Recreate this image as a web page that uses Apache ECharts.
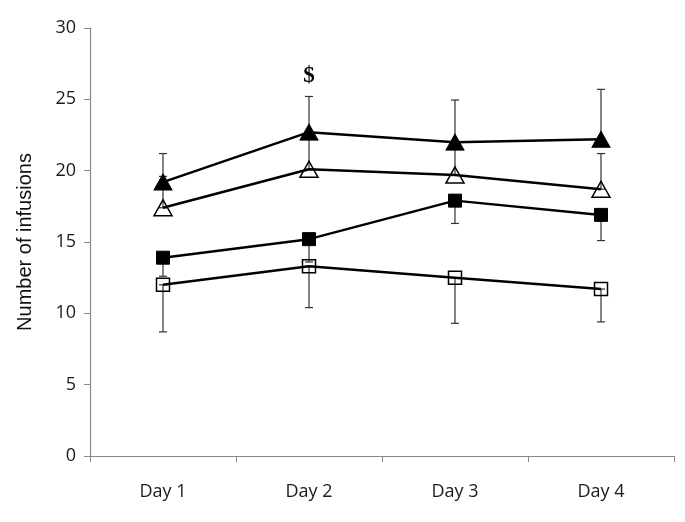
<!DOCTYPE html>
<html>
<head>
<meta charset="utf-8">
<script src="https://cdn.jsdelivr.net/npm/echarts@6/dist/echarts.min.js"></script>
<style>html,body{margin:0;padding:0;background:#fff}#c{width:685px;height:522px}</style>
</head>
<body>
<div id="c"></div>
<script>
var categories = ['Day 1', 'Day 2', 'Day 3', 'Day 4'];
var yTicks = [0, 5, 10, 15, 20, 25, 30];
var filledTri = [19.2, 22.7, 22.0, 22.2];
var filledTriHigh = [21.2, 25.2, 24.95, 25.7];
var openTri = [17.4, 20.1, 19.7, 18.7];
var openTriHigh = [19.6, 22.4, 21.8, 21.2];
var filledSq = [13.9, 15.2, 17.9, 16.9];
var filledSqLow = [12.6, 13.6, 16.3, 15.1];
var openSq = [12.0, 13.3, 12.5, 11.7];
var openSqLow = [8.7, 10.4, 9.3, 9.4];
var annotation = { text: '$', category: 'Day 2', y: 26.6 };

function errData(a, b) {
  return a.map(function (v, i) { return [i, Math.min(v, b[i]), Math.max(v, b[i])]; });
}
function errSeries(a, b) {
  return {
    type: 'custom',
    z: 1,
    silent: true,
    data: errData(a, b),
    renderItem: function (params, api) {
      var x = api.value(0);
      var p1 = api.coord([x, api.value(1)]);
      var p2 = api.coord([x, api.value(2)]);
      var hw = 4;
      var st = { stroke: '#333', lineWidth: 1.2 };
      return {
        type: 'group',
        children: [
          { type: 'line', shape: { x1: p1[0], y1: p1[1], x2: p2[0], y2: p2[1] }, style: st },
          { type: 'line', shape: { x1: p1[0] - hw, y1: p1[1], x2: p1[0] + hw, y2: p1[1] }, style: st },
          { type: 'line', shape: { x1: p2[0] - hw, y1: p2[1], x2: p2[0] + hw, y2: p2[1] }, style: st }
        ]
      };
    }
  };
}
function lineSeries(data, symbol, size, filled, extra) {
  var s = {
    type: 'line',
    z: 3,
    data: data,
    symbol: symbol,
    symbolSize: size,
    showAllSymbol: true,
    lineStyle: { color: '#000', width: 2.5 },
    itemStyle: filled ? { color: '#000', borderColor: '#000', borderWidth: 1 }
                      : { color: 'rgba(255,255,255,0)', borderColor: '#000', borderWidth: 1.5 },
    emphasis: { disabled: true },
    animation: false
  };
  if (extra) for (var k in extra) s[k] = extra[k];
  return s;
}

var chart = echarts.init(document.getElementById('c'));
chart.setOption({
  animation: false,
  grid: { left: 90, right: 11, top: 28, bottom: 66 },
  xAxis: {
    type: 'category',
    data: categories,
    boundaryGap: true,
    axisLine: { lineStyle: { color: '#888', width: 1.2 } },
    axisTick: { show: true, length: 6, lineStyle: { color: '#888' } },
    axisLabel: { color: '#1a1a1a', fontSize: 18, fontFamily: 'Open Sans', margin: 27 }
  },
  yAxis: {
    type: 'value',
    min: yTicks[0],
    max: yTicks[yTicks.length - 1],
    interval: 5,
    name: 'Number of infusions',
    nameLocation: 'middle',
    nameGap: 55,
    nameTextStyle: { color: '#111', fontSize: 20, fontFamily: 'Liberation Sans' },
    axisLine: { show: true, lineStyle: { color: '#888', width: 1.2 } },
    axisTick: { show: true, length: 6, lineStyle: { color: '#888' } },
    splitLine: { show: false },
    axisLabel: { color: '#1a1a1a', fontSize: 18, fontFamily: 'Open Sans', margin: 14 }
  },
  series: [
    errSeries(filledTri, filledTriHigh),
    errSeries(openTri, openTriHigh),
    errSeries(filledSq, filledSqLow),
    errSeries(openSq, openSqLow),
    lineSeries(filledTri, 'triangle', [18, 16], true, {
      markPoint: {
        symbol: 'circle', symbolSize: 1,
        itemStyle: { color: 'rgba(0,0,0,0)' },
        label: { show: true, position: 'inside', formatter: annotation.text, color: '#000',
                 fontSize: 23, fontWeight: 'bold', fontFamily: 'Liberation Serif' },
        data: [{ coord: [annotation.category, annotation.y] }]
      }
    }),
    lineSeries(openTri, 'triangle', [18, 16], false),
    lineSeries(filledSq, 'rect', [13, 13], true),
    lineSeries(openSq, 'rect', [13, 13], false)
  ]
});
</script>
</body>
</html>
